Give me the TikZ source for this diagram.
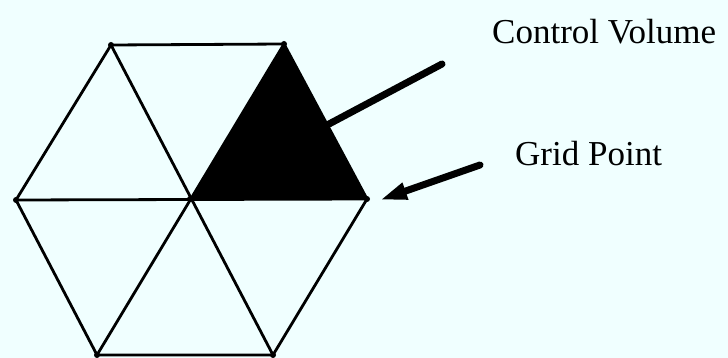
\documentclass[tikz,border=0pt]{standalone}
\usepackage{fontspec}
\setmainfont{Liberation Serif}
\usetikzlibrary{arrows.meta}
\definecolor{bg}{HTML}{F0FFFF}
\begin{document}
\begin{tikzpicture}[x=1pt,y=-1pt,
  edge/.style={line width=2.8pt,line cap=round,line join=round},
  vdot/.style={circle,fill=black,inner sep=0pt,minimum size=6pt},
  pointer/.style={line width=7pt,line cap=round},
  lbl/.style={font=\fontsize{35}{40}\selectfont,inner sep=0pt,anchor=base west}]
\fill[bg] (0,0) rectangle (728,358);
\useasboundingbox (0,0) rectangle (728,358);
\coordinate (TL) at (111,45);
\coordinate (TR) at (284,44);
\coordinate (L) at (16,200);
\coordinate (C) at (190,199);
\coordinate (R) at (367,199);
\coordinate (BL) at (97,355);
\coordinate (BR) at (273,355);
\fill[black] (C) -- (TR) -- (R) -- cycle;
\draw[edge] (TL) -- (TR) -- (R) -- (BR) -- (BL) -- (L) -- cycle;
\draw[edge] (L) -- (R);
\draw[edge] (TL) -- (BR);
\draw[edge] (TR) -- (BL);
\foreach \p in {TL,TR,L,C,R,BL,BR} \node[vdot] at (\p) {};
\coordinate (a1s) at (442,64);
\coordinate (a1e) at (329,124);
\draw[pointer] (a1s) -- (a1e);
\coordinate (a2s) at (480,165);
\coordinate (a2e) at (380,200);
\draw[pointer,-{Triangle[length=27pt,width=16pt]}] (a2s) -- (a2e);
\node[lbl] (cv) at (492,44) {Control Volume};
\node[lbl] (gp) at (515,166) {Grid Point};
\end{tikzpicture}
\end{document}
